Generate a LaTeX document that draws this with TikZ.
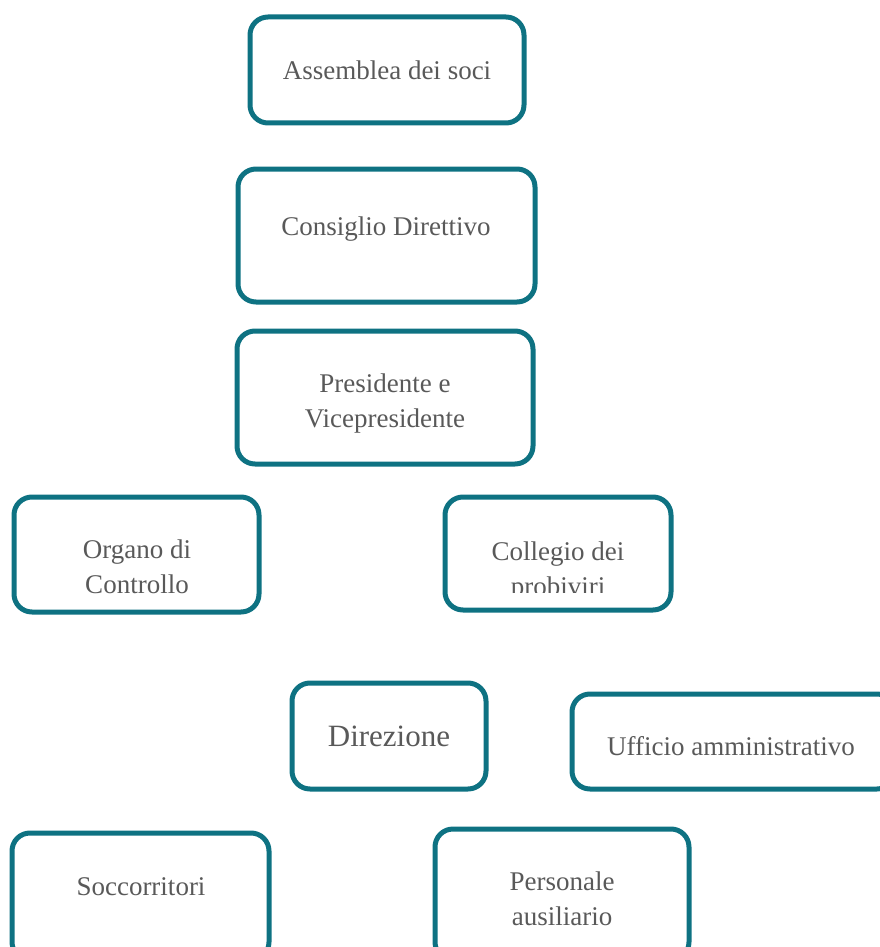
\documentclass[tikz,border=0pt]{standalone}
\usepackage{fontspec}
\setmainfont{Liberation Serif}
\definecolor{tealb}{HTML}{0E7282}
\definecolor{txt}{HTML}{595959}
\begin{document}
\begin{tikzpicture}[x=1pt,y=-1pt,
  box/.style={draw=tealb,line width=5pt,rounded corners=18pt},
  lbl/.style={text=txt,font=\fontsize{27}{35}\selectfont,align=center,inner sep=0pt}]
\useasboundingbox (0,0) rectangle (879,947);
\draw[box] (250,17) rectangle (524,123);
\node[lbl] (a) at (387,70) {Assemblea dei soci};
\draw[box] (238,169) rectangle (535,302);
\node[lbl] (b) at (386,229) {Consiglio Direttivo};
\draw[box] (237,331) rectangle (533,464);
\node[lbl] (c) at (385,404) {Presidente e\\Vicepresidente};
\draw[box] (14,497) rectangle (259,612);
\node[lbl] (d) at (137,567) {Organo di\\Controllo};
\draw[box] (445,497) rectangle (671,610);
\begin{scope}
\clip (445,497) rectangle (671,592);
\node[lbl] (e) at (558,571) {Collegio dei\\probiviri};
\end{scope}
\draw[box] (292,683) rectangle (486,789);
\node[lbl,font=\fontsize{31}{35}\selectfont] (f) at (389,736) {Direzione};
\draw[box] (572,694) rectangle (895,789);
\node[lbl] (g) at (731,746) {Ufficio amministrativo};
\draw[box] (12,833) rectangle (269,960);
\node[lbl] (h) at (141,887) {Soccorritori};
\draw[box] (435,829) rectangle (689,960);
\node[lbl] (i) at (562,899) {Personale\\ausiliario};
\end{tikzpicture}
\end{document}
